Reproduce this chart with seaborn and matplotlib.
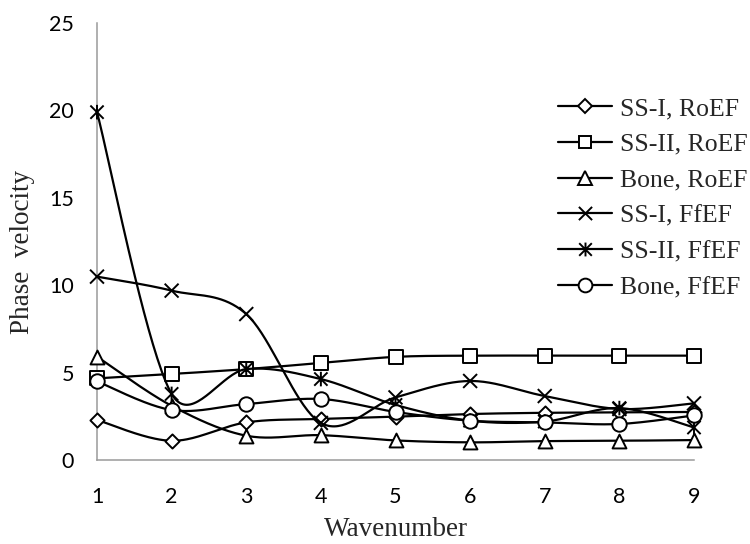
import numpy as np
import matplotlib
matplotlib.use("Agg")
import matplotlib.pyplot as plt
import seaborn as sns
from matplotlib.path import Path
from matplotlib.lines import Line2D

# ---------------- data ----------------
wavenumber = [1, 2, 3, 4, 5, 6, 7, 8, 9]
ss1_roef = [2.29, 1.10, 2.15, 2.35, 2.48, 2.63, 2.70, 2.72, 2.75]
ss2_roef = [4.67, 4.92, 5.20, 5.55, 5.90, 5.97, 5.97, 5.97, 5.97]
bone_roef = [5.91, 3.10, 1.39, 1.42, 1.12, 1.01, 1.08, 1.10, 1.14]
ss1_ffef = [10.49, 9.69, 8.35, 2.12, 3.58, 4.52, 3.66, 2.92, 3.24]
ss2_ffef = [19.9, 3.78, 5.20, 4.63, 3.15, 2.25, 2.20, 2.97, 1.86]
bone_ffef = [4.50, 2.86, 3.20, 3.49, 2.75, 2.25, 2.15, 2.06, 2.55]

series_labels = ["SS-I, RoEF", "SS-II, RoEF", "Bone, RoEF",
                 "SS-I, FfEF", "SS-II, FfEF", "Bone, FfEF"]
series_values = [ss1_roef, ss2_roef, bone_roef, ss1_ffef, ss2_ffef, bone_ffef]

x_ticks = [1, 2, 3, 4, 5, 6, 7, 8, 9]
y_ticks = [0, 5, 10, 15, 20, 25]

# ---------------- style ----------------
sns.set_style("white")
plt.rcParams["font.family"] = ["Liberation Serif", "DejaVu Serif"]

cross = Path([(-0.5, -0.5), (0.5, 0.5), (-0.5, 0.5), (0.5, -0.5)],
             [Path.MOVETO, Path.LINETO, Path.MOVETO, Path.LINETO])
asterisk = Path([(-0.5, -0.5), (0.5, 0.5), (-0.5, 0.5), (0.5, -0.5), (0, -0.55), (0, 0.55)],
                [Path.MOVETO, Path.LINETO, Path.MOVETO, Path.LINETO, Path.MOVETO, Path.LINETO])
markers = ["D", "s", "^", cross, asterisk, "o"]
msizes = [7.2, 9.6, 10.0, 10.0, 10.5, 10.4]   # points
filled = [True, True, True, False, False, True]

FIG_W, FIG_H = 750, 544
AX_L, AX_R, AX_T, AX_B = 97, 694, 23, 460
fig = plt.figure(figsize=(FIG_W / 100, FIG_H / 100), dpi=100)
ax = fig.add_axes([AX_L / FIG_W, 1 - AX_B / FIG_H, (AX_R - AX_L) / FIG_W, (AX_B - AX_T) / FIG_H])

sx = (AX_R - AX_L) / 8.0   # px per x unit
sy = (AX_B - AX_T) / 25.0  # px per y unit


def excel_smooth(x, y, n=40):
    """Excel-like smoothed line (Bezier with limited control points)."""
    P = np.column_stack([np.asarray(x, float) * sx, np.asarray(y, float) * sy])
    N = len(P)
    pts = [P[0]]
    for i in range(N - 1):
        p0 = P[i - 1] if i > 0 else P[i]
        p1, p2 = P[i], P[i + 1]
        p3 = P[i + 2] if i + 2 < N else P[i + 1]
        d02 = np.linalg.norm(p2 - p0)
        d12 = np.linalg.norm(p2 - p1)
        d13 = np.linalg.norm(p3 - p1)
        f = 1 / 6 if d02 / 6 < d12 / 2 else d12 / (2 * d02)
        g = 1 / 6 if d13 / 6 < d12 / 2 else d12 / (2 * d13)
        c1 = p1 + f * (p2 - p0)
        c2 = p2 - g * (p3 - p1)
        t = np.linspace(0, 1, n)[1:, None]
        seg = (1 - t) ** 3 * p1 + 3 * (1 - t) ** 2 * t * c1 + 3 * (1 - t) * t ** 2 * c2 + t ** 3 * p2
        pts.extend(seg)
    pts = np.array(pts)
    return pts[:, 0] / sx, pts[:, 1] / sy


LW = 1.6
MEW = 1.4
handles = []
for i, (lab, vals) in enumerate(zip(series_labels, series_values)):
    xs, ys = excel_smooth(wavenumber, vals)
    sns.lineplot(x=xs, y=ys, sort=False, estimator=None, color="black",
                 linewidth=LW, ax=ax, zorder=3 + 2 * i, legend=False)
    sns.scatterplot(x=wavenumber, y=vals, marker=markers[i], s=msizes[i] ** 2,
                    facecolor="white" if filled[i] else "none", edgecolor="black",
                    linewidth=MEW, ax=ax, zorder=4 + 2 * i, legend=False, clip_on=False)
    handles.append(Line2D([], [], color="black", linewidth=LW, marker=markers[i],
                          markersize=msizes[i] * 0.95,
                          markerfacecolor="white" if filled[i] else "none",
                          markeredgecolor="black", markeredgewidth=MEW, label=lab))

ax.set_xlim(1, 9)
ax.set_ylim(0, 25)
ax.set_xticks(x_ticks)
ax.set_yticks(y_ticks)

GRAY = "#9a9a9a"
for side in ["top", "right"]:
    ax.spines[side].set_visible(False)
for side in ["left", "bottom"]:
    ax.spines[side].set_color(GRAY)
    ax.spines[side].set_linewidth(1.1)
ax.tick_params(axis="both", direction="out", length=5.5, width=1.1, color=GRAY,
               labelcolor="black")
ax.tick_params(axis="y", pad=11)
ax.tick_params(axis="x", pad=14)
for lbl in ax.get_xticklabels() + ax.get_yticklabels():
    lbl.set_fontfamily(["Lato", "DejaVu Sans"])
    lbl.set_fontsize(15.5)

ax.set_xlabel("Wavenumber", fontsize=19.5)
ax.set_ylabel("Phase  velocity", fontsize=19.5)
ax.xaxis.set_label_coords(0.5, -0.131)
ax.yaxis.set_label_coords(-0.104, 0.476)

leg = ax.legend(handles=handles, loc="upper left", bbox_to_anchor=(558 / FIG_W, 1 - 97 / FIG_H),
                bbox_transform=fig.transFigure, frameon=False, fontsize=18.5,
                handlelength=2.1, handletextpad=0.3, labelspacing=0.5, borderpad=0,
                borderaxespad=0)
leg.set_zorder(30)

fig.savefig("out.png", dpi=100)
